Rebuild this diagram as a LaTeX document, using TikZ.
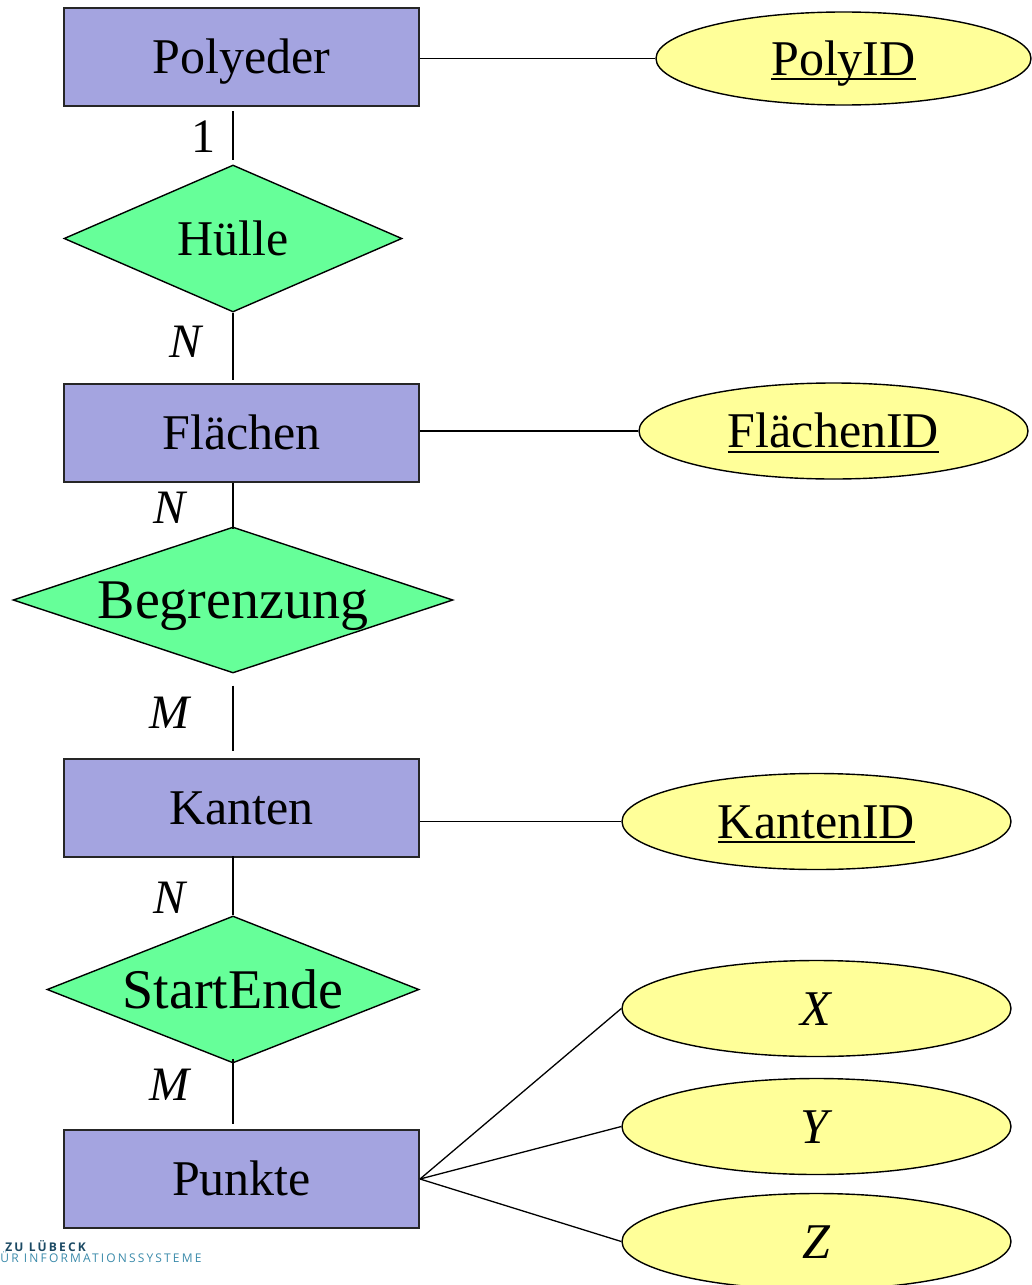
\documentclass[tikz,border=0pt]{standalone}
\usepackage{fontspec}
\setmainfont{Liberation Serif}
\newfontfamily\logofont[LetterSpace=18]{Open Sans}
\usetikzlibrary{shapes.geometric}
\definecolor{entfill}{RGB}{164,164,224}
\definecolor{relfill}{RGB}{102,255,153}
\definecolor{attfill}{RGB}{255,255,153}
\definecolor{logodark}{RGB}{28,74,100}
\definecolor{logolight}{RGB}{58,138,170}
\newcommand\myul[1]{\setbox0\hbox{#1}\rlap{\rule[-2.6pt]{\wd0}{1pt}}\box0}
\tikzset{
  entity/.style={rectangle, draw=black!85, line width=1pt, fill=entfill,
    minimum width=177.5pt, minimum height=49pt, inner sep=0pt,
    font=\fontsize{25pt}{25pt}\selectfont, text height=16.5pt, text depth=0pt},
  relation/.style={diamond, draw=black, line width=0.7pt, fill=relfill,
    inner sep=0pt, text height=17pt, text depth=0pt},
  attrib/.style={ellipse, draw=black, line width=0.7pt, fill=attfill,
    minimum height=48pt, inner sep=0pt,
    font=\fontsize{25pt}{25pt}\selectfont, text height=16.5pt, text depth=0pt},
  card/.style={anchor=base, inner sep=0pt, font=\fontsize{24pt}{24pt}\selectfont},
  conn/.style={line width=0.65pt, draw=black},
  logo/.style={anchor=base west, inner sep=0pt}
}
\begin{document}
\begin{tikzpicture}[x=0.5pt,y=-0.5pt]
\useasboundingbox (0,0) rectangle (1032,1285);
% entities
\node[entity] (poly) at (241.5,57) {Polyeder};
\node[entity] (flae) at (241.5,432.5) {Flächen};
\node[entity] (kant) at (241.5,808) {Kanten};
\node[entity] (punk) at (241.5,1179) {Punkte};
% relationships
\node[relation, minimum width=169pt, minimum height=73.5pt,
  font=\fontsize{25pt}{25pt}\selectfont] (huel) at (233,238.5) {\makebox[0pt]{Hülle}};
\node[relation, minimum width=220pt, minimum height=73pt,
  font=\fontsize{28pt}{28pt}\selectfont, text height=18.5pt] (begr) at (233,600) {\makebox[0pt]{Begrenzung}};
\node[relation, minimum width=186pt, minimum height=73.5pt,
  font=\fontsize{28pt}{28pt}\selectfont, text height=18.5pt] (stae) at (233,989.5) {\makebox[0pt]{StartEnde}};
% attributes
\node[attrib, minimum width=187.5pt, minimum height=46.5pt] (pid) at (843.5,58.5) {\myul{PolyID}};
\node[attrib, minimum width=194.5pt] (fid) at (833.5,431) {\myul{FlächenID}};
\node[attrib, minimum width=194.5pt] (kid) at (816.5,821.5) {\myul{KantenID}};
\node[attrib, minimum width=194.5pt] (ax) at (816.5,1008.5) {\textit{X}};
\node[attrib, minimum width=194.5pt] (ay) at (816.5,1126.5) {\textit{Y}};
\node[attrib, minimum width=194.5pt] (az) at (816.5,1241.5) {\textit{Z}};
% connectors
\draw[conn, shorten <=2pt, shorten >=2pt] (poly.south -| huel.north) -- (huel.north);
\draw[conn, shorten >=1.5pt] (huel.south) -- (flae.north -| huel.south);
\draw[conn, shorten >=-1.5pt] (flae.south -| begr.north) -- (begr.north);
\draw[conn, shorten <=6pt, shorten >=3.5pt] (begr.south) -- (kant.north -| begr.south);
\draw[conn, shorten <=-1pt] (kant.south -| stae.north) -- (stae.north);
\draw[conn, shorten <=-2.5pt, shorten >=2.5pt] (stae.south) -- (punk.north -| stae.south);
\draw[conn] (poly.east |- pid.west) -- (pid.west);
\draw[conn] (flae.east |- fid.west) -- (fid.west);
\draw[conn] (kant.east |- kid.west) -- (kid.west);
\draw[conn] (punk.east) -- (ax.west);
\draw[conn] (punk.east) -- (ay.west);
\draw[conn] (punk.east) -- (az.west);
% cardinalities
\node[card] (c1) at (203,152) {1};
\node[card] (c2) at (187,357) {\textit{N}};
\node[card] (c3) at (171,523) {\textit{N}};
\node[card] (c4) at (171,728) {\textit{M}};
\node[card] (c5) at (171,913) {\textit{N}};
\node[card] (c6) at (171,1100) {\textit{M}};
% logo text
\node[logo, text=logodark, font={\logofont\fontsize{6pt}{6pt}\selectfont\bfseries}] (l1) at (5,1251) {ZU LÜBECK};
\node[logo, text=logolight, font={\logofont\fontsize{6pt}{6pt}\selectfont}] (l2) at (0,1262) {ÜR INFORMATIONSSYSTEME};
\end{tikzpicture}
\end{document}
